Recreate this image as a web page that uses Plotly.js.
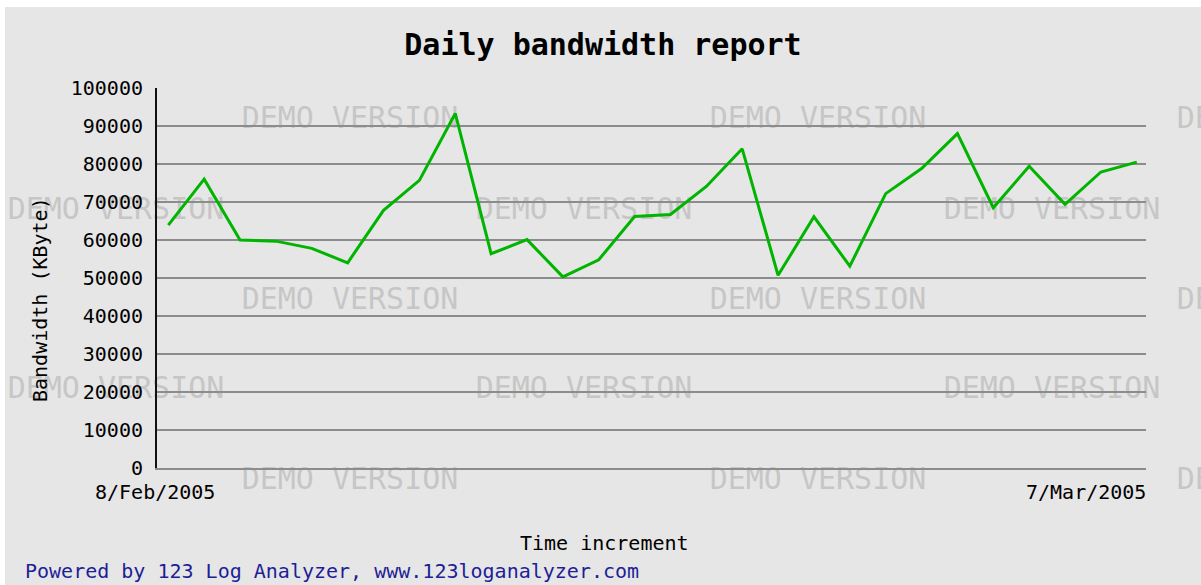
<!DOCTYPE html>
<html>
<head>
<meta charset="utf-8">
<script src="https://cdn.plot.ly/plotly-3.0.1.min.js"></script>
<style>
  html, body { margin: 0; padding: 0; background: #ffffff; width: 1201px; height: 585px; overflow: hidden; }
  #chart { position: absolute; left: 5px; top: 7px; width: 1196px; height: 578px; }
</style>
</head>
<body>
<div id="chart"></div>
<script>
// ---- data ----
const days = [
  '8/Feb/2005', '9/Feb/2005', '10/Feb/2005', '11/Feb/2005', '12/Feb/2005', '13/Feb/2005', '14/Feb/2005',
  '15/Feb/2005', '16/Feb/2005', '17/Feb/2005', '18/Feb/2005', '19/Feb/2005', '20/Feb/2005', '21/Feb/2005',
  '22/Feb/2005', '23/Feb/2005', '24/Feb/2005', '25/Feb/2005', '26/Feb/2005', '27/Feb/2005', '28/Feb/2005',
  '1/Mar/2005', '2/Mar/2005', '3/Mar/2005', '4/Mar/2005', '5/Mar/2005', '6/Mar/2005', '7/Mar/2005'
];
const bandwidthKB = [
  63900, 76000, 60000, 59700, 57800, 54000, 67800,
  75700, 93300, 56400, 60100, 50300, 54800, 66200,
  66700, 74100, 84000, 50700, 66100, 53100, 72200,
  78800, 88000, 68500, 79400, 69400, 77900, 80500
];
const tickLabels = [days[0], days[days.length - 1]];
const chartTitle = 'Daily bandwidth report';
const xTitle = 'Time increment';
const yTitle = 'Bandwidth (KByte)';
const footer = 'Powered by 123 Log Analyzer, www.123loganalyzer.com';
const watermark = 'DEMO VERSION';

// ---- layout geometry (page pixels -> paper fractions) ----
const DIVX = 5, DIVY = 7, DW = 1196, DH = 578;
const M = { l: 152, r: 55, t: 81, b: 117 };
const PW = DW - M.l - M.r, PH = DH - M.t - M.b;
const px = X => (X - DIVX - M.l) / PW;
const py = Y => (M.t + PH - (Y - DIVY)) / PH;

const mono = 'DejaVu Sans Mono, Liberation Mono, monospace';

// watermark text placed under the grid
const wmRowsA = [115, 296, 476], wmColsA = [350, 818, 1285];
const wmRowsB = [206, 385], wmColsB = [116, 584, 1052];
const shapes = [];
function addWm(cx, cy) {
  shapes.push({
    type: 'rect', xref: 'paper', yref: 'paper', layer: 'below',
    x0: px(cx - 110), x1: px(cx + 110), y0: py(cy + 16), y1: py(cy - 16),
    line: { width: 0 }, fillcolor: 'rgba(0,0,0,0)',
    label: { text: watermark, textposition: 'middle center',
             font: { family: mono, size: 30, color: '#c6c6c6' } }
  });
}
wmRowsA.forEach(y => wmColsA.forEach(x => addWm(x, y)));
wmRowsB.forEach(y => wmColsB.forEach(x => addWm(x, y)));

const annotations = [
  { text: tickLabels[0], xref: 'paper', yref: 'paper', x: px(155), y: py(492),
    xanchor: 'center', yanchor: 'middle', showarrow: false,
    font: { family: mono, size: 20, color: '#000' } },
  { text: tickLabels[1], xref: 'paper', yref: 'paper', x: px(1148), y: py(492),
    xanchor: 'right', yanchor: 'middle', showarrow: false,
    font: { family: mono, size: 20, color: '#000' } },
  { text: xTitle, xref: 'paper', yref: 'paper', x: px(604), y: py(543),
    xanchor: 'center', yanchor: 'middle', showarrow: false,
    font: { family: mono, size: 20, color: '#000' } },
  { text: yTitle, xref: 'paper', yref: 'paper', x: px(40), y: py(300), textangle: -90,
    xanchor: 'center', yanchor: 'middle', showarrow: false,
    font: { family: mono, size: 20, color: '#000' } },
  { text: footer, xref: 'paper', yref: 'paper', x: px(23), y: py(571),
    xanchor: 'left', yanchor: 'middle', showarrow: false,
    font: { family: mono, size: 20, color: '#1e1e96' } }
];

const trace = {
  type: 'scatter', mode: 'lines',
  x: days, y: bandwidthKB,
  line: { color: '#00b400', width: 3 },
  hoverinfo: 'skip'
};

const layout = {
  width: DW, height: DH,
  margin: { l: M.l, r: M.r, t: M.t, b: M.b, pad: 0 },
  paper_bgcolor: '#e6e6e6',
  plot_bgcolor: 'rgba(0,0,0,0)',
  showlegend: false,
  title: {
    text: chartTitle, xref: 'paper', x: px(603), xanchor: 'center',
    yref: 'container', y: 1 - (44 - DIVY) / DH, yanchor: 'middle',
    font: { family: mono, size: 30, color: '#000', weight: 'bold' }
  },
  xaxis: {
    type: 'category', range: [-0.315, 27.257],
    showticklabels: false, showgrid: false, zeroline: false, ticks: '',
    showline: true, linecolor: '#8c8c8c', linewidth: 2
  },
  yaxis: {
    range: [0, 100000], tick0: 0, dtick: 10000, tickformat: 'd',
    showgrid: true, gridcolor: '#8c8c8c', gridwidth: 2, zeroline: false,
    showline: true, linecolor: '#111111', linewidth: 2,
    ticks: '', ticklabelstandoff: 8,
    tickfont: { family: mono, size: 20, color: '#000' }
  },
  shapes: shapes,
  annotations: annotations
};

Plotly.newPlot('chart', [trace], layout, { displayModeBar: false, staticPlot: true });
</script>
</body>
</html>
